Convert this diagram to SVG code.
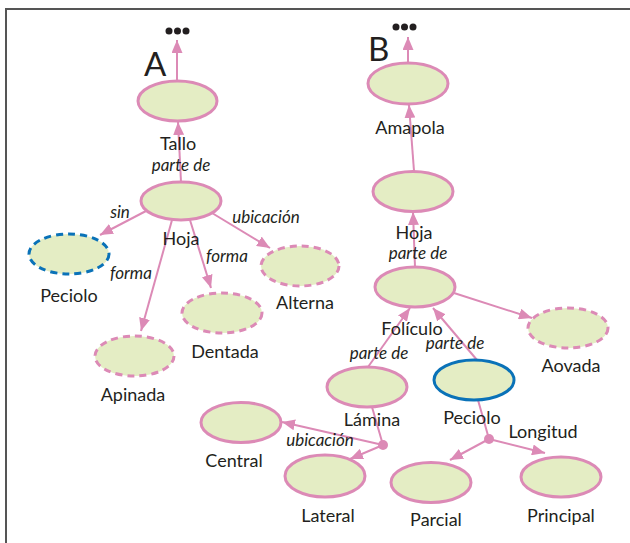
<svg xmlns="http://www.w3.org/2000/svg" width="630" height="543" viewBox="0 0 630 543">
<style>
.n{fill:#e4edc4;stroke:#dc8ab6;stroke-width:3}
.d{stroke-dasharray:7 5}
.b{stroke:#0a72b8}
.l{fill:none;stroke:#dc8ab6;stroke-width:2}
.t{font-family:Lato,"Open Sans",sans-serif;font-size:18px;fill:#231f20;text-anchor:middle}
.i{font-family:Lato,"Open Sans",sans-serif;font-size:17px;font-style:italic;fill:#231f20;text-anchor:middle}
.big{font-family:Lato,"Open Sans",sans-serif;font-size:33px;fill:#231f20}
.dot{fill:#231f20}
.j{fill:#dc8ab6}
</style>
<defs>
<marker id="ah" markerUnits="userSpaceOnUse" markerWidth="13" markerHeight="11" refX="13" refY="5.5" orient="auto"><path d="M0,0 L13,5.5 L0,11 z" fill="#dc8ab6"/></marker>
</defs>
<rect x="0" y="0" width="630" height="543" fill="#fff"/>
<path d="M6,543 V9 H630" fill="none" stroke="#555" stroke-width="2"/>
<g id="labelA"><text class="big" x="144" y="76">A</text><circle class="dot" cx="169" cy="31" r="3.5"/><circle class="dot" cx="177.5" cy="31" r="3.5"/><circle class="dot" cx="186" cy="31" r="3.5"/></g>
<g id="labelB"><text class="big" x="368" y="61">B</text><circle class="dot" cx="396" cy="27" r="3.5"/><circle class="dot" cx="404.5" cy="27" r="3.5"/><circle class="dot" cx="413" cy="27" r="3.5"/></g>
<g id="connectors">
<line class="l" x1="177" y1="81" x2="177" y2="40" marker-end="url(#ah)"/>
<line class="l" x1="181" y1="182" x2="178" y2="122" marker-end="url(#ah)"/>
<line class="l" x1="146" y1="211" x2="100" y2="235" marker-end="url(#ah)"/>
<line class="l" x1="172" y1="220" x2="141" y2="331" marker-end="url(#ah)"/>
<line class="l" x1="190" y1="220" x2="211" y2="288" marker-end="url(#ah)"/>
<line class="l" x1="212" y1="213" x2="270" y2="248" marker-end="url(#ah)"/>
<line class="l" x1="408" y1="63" x2="408" y2="37" marker-end="url(#ah)"/>
<line class="l" x1="414" y1="171" x2="409" y2="105" marker-end="url(#ah)"/>
<line class="l" x1="415" y1="267" x2="413" y2="212" marker-end="url(#ah)"/>
<line class="l" x1="454" y1="293" x2="532" y2="318" marker-end="url(#ah)"/>
<line class="l" x1="368" y1="367" x2="410" y2="308" marker-end="url(#ah)"/>
<line class="l" x1="477" y1="360" x2="433" y2="308" marker-end="url(#ah)"/>
<line class="l" x1="372" y1="407" x2="383" y2="445"/>
<line class="l" x1="383" y1="445" x2="282" y2="422" marker-end="url(#ah)"/>
<line class="l" x1="383" y1="445" x2="350" y2="459" marker-end="url(#ah)"/>
<line class="l" x1="478" y1="400" x2="489" y2="439"/>
<line class="l" x1="489" y1="439" x2="450" y2="460" marker-end="url(#ah)"/>
<line class="l" x1="489" y1="439" x2="545" y2="453" marker-end="url(#ah)"/>
<circle class="j" cx="383" cy="445" r="5"/>
<circle class="j" cx="489" cy="439" r="5"/>
<text class="i" x="181" y="171">parte de</text>
<text class="i" x="120" y="218">sin</text>
<text class="i" x="131" y="279">forma</text>
<text class="i" x="227" y="262">forma</text>
<text class="i" x="266" y="223">ubicación</text>
<text class="i" x="418" y="259">parte de</text>
<text class="i" x="379" y="359">parte de</text>
<text class="i" x="455" y="349">parte de</text>
<text class="i" x="320" y="446">ubicación</text>
<text class="t" x="543" y="438">Longitud</text>
</g>
<g id="tallo"><ellipse class="n" cx="177.5" cy="101" rx="39.5" ry="20"/><text class="t" x="178" y="150">Tallo</text></g>
<g id="hojaA"><ellipse class="n" cx="181" cy="201" rx="40" ry="19"/><text class="t" x="181" y="245">Hoja</text></g>
<g id="pecioloA"><ellipse class="n b d" cx="69" cy="254" rx="40" ry="20"/><text class="t" x="69" y="302">Peciolo</text></g>
<g id="apinada"><ellipse class="n d" cx="134.5" cy="356" rx="39.5" ry="20"/><text class="t" x="133" y="401">Apinada</text></g>
<g id="dentada"><ellipse class="n d" cx="222" cy="313" rx="40" ry="20"/><text class="t" x="225" y="358">Dentada</text></g>
<g id="alterna"><ellipse class="n d" cx="300" cy="266" rx="39" ry="20"/><text class="t" x="305" y="309">Alterna</text></g>
<g id="amapola"><ellipse class="n" cx="408" cy="83.5" rx="40" ry="20.5"/><text class="t" x="410" y="134">Amapola</text></g>
<g id="hojaB"><ellipse class="n" cx="413" cy="191.5" rx="40" ry="20"/><text class="t" x="414" y="239">Hoja</text></g>
<g id="foliculo"><ellipse class="n" cx="415" cy="287" rx="40" ry="20"/><text class="t" x="412" y="335">Folículo</text></g>
<g id="aovada"><ellipse class="n d" cx="568" cy="328" rx="40" ry="20"/><text class="t" x="571" y="372">Aovada</text></g>
<g id="lamina"><ellipse class="n" cx="367" cy="387" rx="40" ry="20"/><text class="t" x="372" y="426">Lámina</text></g>
<g id="pecioloB"><ellipse class="n b" cx="474" cy="380" rx="40" ry="20"/><text class="t" x="472" y="424">Peciolo</text></g>
<g id="central"><ellipse class="n" cx="241" cy="422.5" rx="40" ry="20"/><text class="t" x="234" y="467">Central</text></g>
<g id="lateral"><ellipse class="n" cx="325" cy="476" rx="40" ry="21"/><text class="t" x="328" y="522">Lateral</text></g>
<g id="parcial"><ellipse class="n" cx="431" cy="482.5" rx="40" ry="20"/><text class="t" x="436" y="526">Parcial</text></g>
<g id="principal"><ellipse class="n" cx="561" cy="477" rx="40" ry="20"/><text class="t" x="561" y="522">Principal</text></g>
</svg>
